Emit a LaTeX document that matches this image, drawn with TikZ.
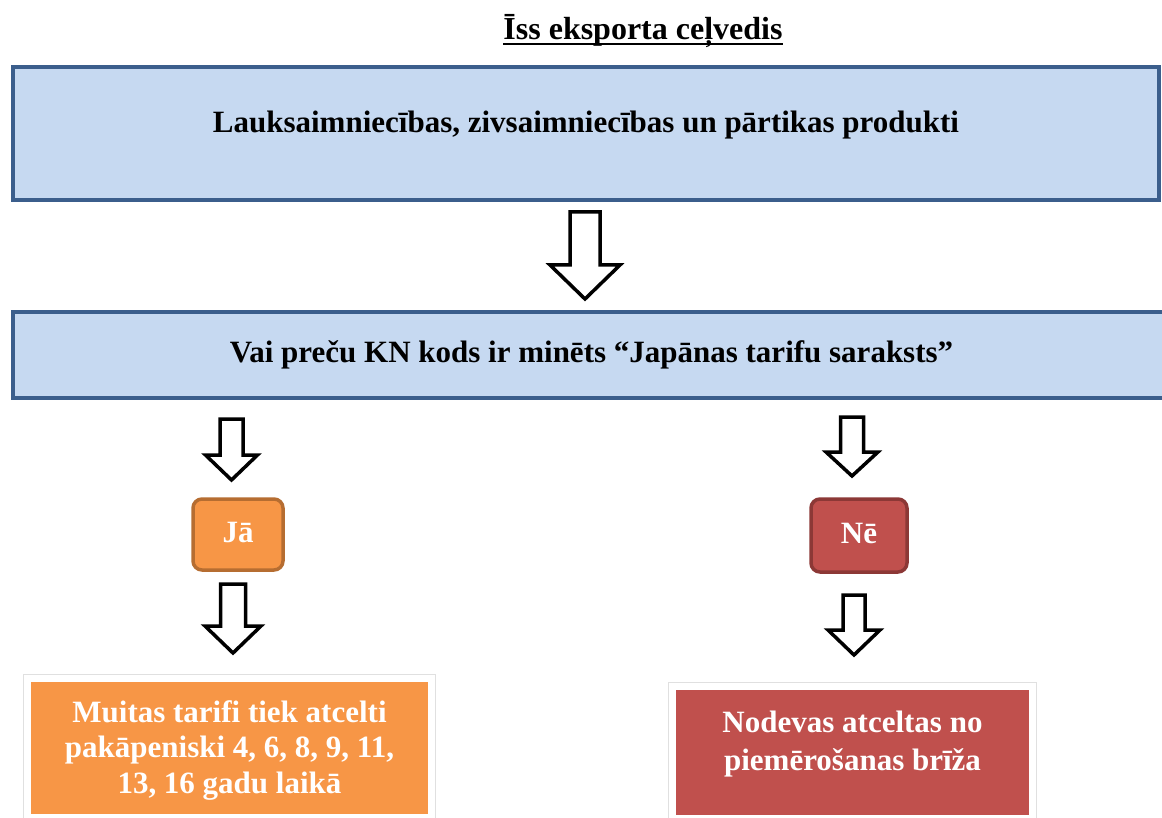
\documentclass[tikz,border=0pt]{standalone}
\usepackage{fontspec}
\setmainfont{Liberation Serif}

\definecolor{boxblue}{HTML}{C6D9F1}
\definecolor{edgeblue}{HTML}{3B5E8C}
\definecolor{jaorange}{HTML}{F79646}
\definecolor{jaedge}{HTML}{B66D31}
\definecolor{nered}{HTML}{C0504D}
\definecolor{needge}{HTML}{8C3836}

% hollow block arrow pointing down: x, top, tip, shaft half width, head half width, head length
\newcommand{\hollowdown}[6]{%
	\draw[hollow] (#1-#4,#2) -- (#1+#4,#2) -- (#1+#4,#3-#6) -- (#1+#5,#3-#6) -- (#1,#3)
		-- (#1-#5,#3-#6) -- (#1-#4,#3-#6) -- cycle;}

\begin{document}
\begin{tikzpicture}[x=1pt, y=-1pt,
	boxfont/.style={font=\fontsize{31}{36}\selectfont\bfseries},
	question/.style={boxfont, draw=edgeblue, line width=3.5pt, fill=boxblue, inner sep=0pt, text height=20pt},
	answer/.style={boxfont, rounded corners=9pt, line width=3.5pt, text=white, inner sep=0pt, text height=20pt, text depth=5pt},
	result/.style={boxfont, text=white, align=center, inner sep=0pt,
		preaction={draw=black!12, line width=0.8pt, double=white, double distance=14pt}},
	hollow/.style={draw=black, line width=3.5pt, fill=white, line join=miter}]
	\useasboundingbox (0,0) rectangle (1162,818);
	\clip (0,0) rectangle (1162,818);

	% Title
	\node[anchor=base, inner sep=0pt, font=\fontsize{32}{36}\selectfont\bfseries] (title) at (643,40) {Īss eksporta ceļvedis};
	\draw[line width=2.5pt] ([yshift=-4pt]title.base west) -- ([yshift=-4pt]title.base east);

	% Products
	\node[question, minimum width=1146, minimum height=133, text depth=21pt] (products) at (586,133.5)
		{Lauksaimniecības, zivsaimniecības un pārtikas produkti};
	\hollowdown{585}{212}{299}{15}{35}{34}

	% Question
	\node[question, minimum width=1157, minimum height=86, text depth=6pt] (question) at (591.5,355)
		{Vai preču KN kods ir minēts “Japānas tarifu saraksts”};

	% Yes
	\hollowdown{231.5}{419}{480}{11.5}{26}{25}
	\node[answer, draw=jaedge, fill=jaorange, minimum width=90, minimum height=71] (yes) at (238,534.5) {Jā};
	\hollowdown{233}{584}{653}{12.5}{28}{27}
	\node[result, fill=jaorange, minimum width=397, minimum height=132, text height=91pt, text depth=1pt,
		font=\fontsize{31}{35.5}\selectfont\bfseries] (yesres) at (229.5,748)
		{Muitas tarifi tiek atcelti\\pakāpeniski 4, 6, 8, 9, 11,\\13, 16 gadu laikā};

	% No
	\hollowdown{852}{417}{476}{11.5}{26}{24}
	\node[answer, draw=needge, fill=nered, minimum width=96, minimum height=73] (no) at (859,535.5) {Nē};
	\hollowdown{854}{595}{655}{11}{26}{25}
	\node[result, fill=nered, minimum width=353, minimum height=125, text height=58pt, text depth=23pt,
		font=\fontsize{31}{38}\selectfont\bfseries] (nores) at (852.5,752.5)
		{Nodevas atceltas no\\piemērošanas brīža};
\end{tikzpicture}
\end{document}
